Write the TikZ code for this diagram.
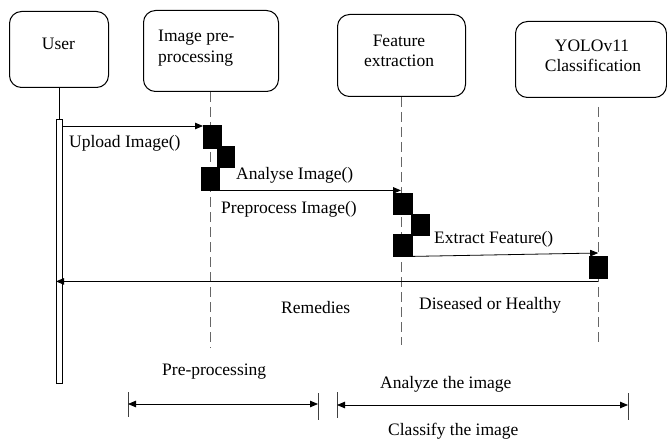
\documentclass[tikz,border=0pt]{standalone}
\usepackage{fontspec}
\setmainfont{Liberation Serif}
\usetikzlibrary{arrows.meta,calc}
\begin{document}
\begin{tikzpicture}[x=1pt,y=-1pt,
  font=\fontsize{17.5}{21}\selectfont,
  tip/.tip={Triangle[length=8pt,width=6.5pt]},
  actor/.style={draw, rounded corners=12pt, line width=1pt, inner sep=0pt, anchor=north west},
  lbl/.style={anchor=base west, inner sep=0pt},
  ttl/.style={anchor=base, inner sep=0pt},
  actblock/.style={fill=black, draw=black, inner sep=0pt, anchor=north west},
  userbar/.style={fill=white, draw=black, line width=0.8pt, inner sep=0pt, anchor=north west},
  life/.style={draw=black!60, line width=1pt, dash pattern=on 10pt off 5pt},
  msg/.style={line width=0.8pt, -tip},
  dimline/.style={line width=0.8pt, tip-tip},
  tick/.style={draw=black!75, line width=1pt},
]
\useasboundingbox (0,0) rectangle (667,441);

% participants
\node[actor, minimum width=99pt,  minimum height=76pt] (user) at (9,11) {};
\node[actor, minimum width=135pt, minimum height=81pt] (prep) at (143,10) {};
\node[actor, minimum width=128pt, minimum height=82pt] (feat) at (337,14) {};
\node[actor, minimum width=151pt, minimum height=76pt] (yolo) at (515,21) {};

\node[ttl] (userT) at (58.5,50) {User};
\node[lbl] (prepT1) at (158,42) {Image pre-};
\node[lbl] (prepT2) at (158,63) {processing};
\node[ttl] (featT1) at (399,47) {Feature};
\node[ttl] (featT2) at (399,67) {extraction};
\node[ttl] (yoloT1) at (592,52) {YOLOv11};
\node[ttl] (yoloT2) at (593,72) {Classification};

% lifelines
\node[userbar, minimum width=6pt, minimum height=264pt] (ubar) at (56,119) {};
\draw[line width=0.8pt] (user.south -| ubar.north) -- (ubar.north);

\coordinate (prepEnd) at (210,348);
\coordinate (featEnd) at (401,345);
\coordinate (yoloTop) at (598,107);
\coordinate (yoloEnd) at (598,342);
\draw[life] (prep.south -| prepEnd) -- (prepEnd);
\draw[life] (feat.south -| featEnd) -- (featEnd);
\draw[life] (yoloTop) -- (yoloEnd);

% activation blocks
\node[actblock, minimum width=18pt, minimum height=23pt] (p1) at (203,125) {};
\node[actblock, minimum width=17pt, minimum height=21pt] (p2) at (217,146) {};
\node[actblock, minimum width=18pt, minimum height=23pt] (p3) at (201,167) {};
\node[actblock, minimum width=19pt, minimum height=21pt] (f1) at (393,193) {};
\node[actblock, minimum width=18pt, minimum height=21pt] (f2) at (411,214) {};
\node[actblock, minimum width=19pt, minimum height=22pt] (f3) at (393,234) {};
\node[actblock, minimum width=18pt, minimum height=22pt] (y1) at (589,256) {};

% messages (y grows downwards here, so offsets are given as coordinates)
\coordinate (upFrom) at (62,126);
\draw[msg] (upFrom) -- (upFrom -| p1.west);
\draw[msg] (p3.south east) -- (p3.south east -| featEnd);
\draw[msg] (f3.south east) -- ($(y1.north)+(0,-3)$);
\coordinate (retFrom) at ($(y1.south)+(0,3)$);
\draw[msg] (retFrom) -- (retFrom -| ubar.west);

\node[lbl] (upL)  at (69,148)  {Upload Image()};
\node[lbl] (anL)  at (236,180) {Analyse Image()};
\node[lbl] (ppL)  at (221,213) {Preprocess Image()};
\node[lbl] (exL)  at (434,243) {Extract Feature()};
\node[lbl] (remL) at (281,313) {Remedies};
\node[lbl] (disL) at (419,309) {Diseased or Healthy};

% phase spans
\coordinate (a1) at (128,392); \coordinate (a2) at (128,417);
\coordinate (b1) at (318,393); \coordinate (b2) at (318,420);
\coordinate (c1) at (337,392); \coordinate (c2) at (337,418);
\coordinate (d1) at (628,393); \coordinate (d2) at (628,420);
\draw[tick] (a1) -- (a2);
\draw[tick] (b1) -- (b2);
\draw[tick] (c1) -- (c2);
\draw[tick] (d1) -- (d2);
\draw[dimline] (a1 |- 0,404) -- (b1 |- 0,404);
\draw[dimline] (c1 |- 0,405) -- (d1 |- 0,405);

\node[lbl] (ppSpan) at (162,375) {Pre-processing};
\node[lbl] (azSpan) at (380,388) {Analyze the image};
\node[lbl] (clSpan) at (388,435) {Classify the image};
\end{tikzpicture}
\end{document}
